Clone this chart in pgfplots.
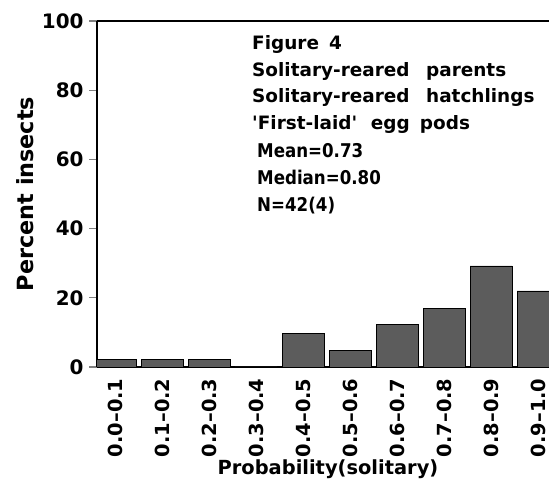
\documentclass[border=0pt]{standalone}
\usepackage{fontspec}
\setmainfont{DejaVu Sans}
\newfontfamily\condfont{DejaVu Sans}[FakeStretch=0.88]
\usepackage{pgfplots}
\pgfplotsset{compat=1.18}
\begin{document}
\begin{tikzpicture}[x=1bp,y=1bp]
\path[use as bounding box] (0,0) rectangle (549,481);
\begin{axis}[
  at={(97bp,114bp)}, anchor=south west,
  scale only axis, width=452bp, height=346bp,
  xmin=-0.383, xmax=9.234, ymin=0, ymax=100,
  axis x line*=box, axis y line*=left,
  axis line style={-, line width=2bp},
  ytick={0,20,40,60,80,100},
  ytick pos=left, tick align=outside,
  major tick length=8bp,
  ytick style={line width=1.2bp},
  xtick={0,...,9},
  xtick style={draw=none},
  xticklabels={0.0--0.1,0.1--0.2,0.2--0.3,0.3--0.4,0.4--0.5,0.5--0.6,0.6--0.7,0.7--0.8,0.8--0.9,0.9--1.0},
  xticklabel style={rotate=90, anchor=east, font=\bfseries\fontsize{19.5}{19.5}\selectfont},
  yticklabel style={font=\bfseries\fontsize{20}{20}\selectfont, xshift=-2bp},
  /pgf/number format/assume math mode=true,
  ylabel={Percent insects},
  xlabel={Probability(solitary)},
  every axis y label/.style={at={(axis description cs:-0.159,0.5)}, rotate=90, anchor=center, font=\bfseries\fontsize{22.4}{22.4}\selectfont},
  every axis x label/.style={at={(axis description cs:0.511,-0.295)}, anchor=center, font=\bfseries\fontsize{19.5}{19.5}\selectfont},
  clip=true,
]
\addplot[ybar, bar width=42bp, bar shift=0pt, fill=black!64, draw=black, line width=0.6bp]
  coordinates {(0,2.3) (1,2.3) (2,2.3) (3,0) (4,9.8) (5,4.9) (6,12.3) (7,17.0) (8,29.2) (9,22.0)};
\end{axis}
\begin{scope}[every node/.style={anchor=base west, inner sep=0pt}]
\node at (252,431) {\bfseries\fontsize{18.5}{18.5}\selectfont Figure\hspace{0.2em} 4};
\node at (252,404.5) {\bfseries\fontsize{18.5}{18.5}\selectfont Solitary-reared\hspace{0.55em} parents};
\node at (252,378) {\bfseries\fontsize{18.5}{18.5}\selectfont Solitary-reared\hspace{0.55em} hatchlings};
\node at (252,351.5) {\bfseries\fontsize{18.5}{18.5}\selectfont \textquotesingle First-laid\textquotesingle\hspace{0.4em} egg\hspace{0.2em} pods};
\node at (257,323) {\condfont\bfseries\fontsize{19}{19}\selectfont Mean=0.73};
\node at (257,296) {\condfont\bfseries\fontsize{19}{19}\selectfont Median=0.80};
\node at (257,269) {\condfont\bfseries\fontsize{19}{19}\selectfont N=42(4)};
\end{scope}
\end{tikzpicture}
\end{document}
